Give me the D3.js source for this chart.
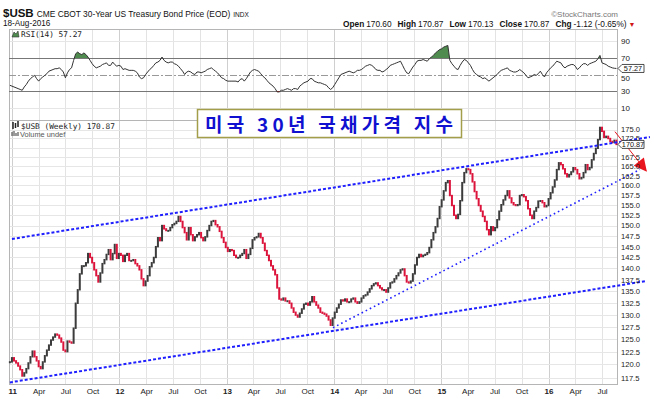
<!DOCTYPE html>
<html>
<head>
<meta charset="utf-8">
<script src="https://cdn.jsdelivr.net/npm/d3@7"></script>
<style>
  body { margin: 0; background: #fff; }
  svg { display: block; font-family: "Liberation Sans", Arial, sans-serif; }
  .axis text { fill: #222; font-size: 8px; font-family: "Liberation Sans", Arial, sans-serif; }
  .price text { font-size: 7.6px; }
  .mono { font-family: "DejaVu Sans Mono", monospace; }
</style>
</head>
<body>
<svg id="chart"></svg>
<script>
// weekly closes of $USB, first bar is the week of 24-Dec-2010
var weekStart = "2010-12-24";
var closes = [
  120.5,121.3,120.7,120.3,119.7,119.0,117.8,118.4,119.2,120.3,
  121.5,122.6,121.5,120.7,119.6,119.2,120.5,121.7,122.8,123.8,
  124.8,125.4,126.0,125.8,125.2,124.4,122.8,122.5,124.6,124.4,
  124.2,127.2,132.4,135.3,138.8,140.6,140.6,141.3,143.4,142.5,
  141.3,139.7,138.4,137.0,139.0,141.1,142.0,143.2,144.3,142.0,
  143.4,145.5,142.3,143.4,143.0,141.6,143.0,143.4,141.8,141.8,
  142.0,141.1,140.6,139.7,137.7,136.2,137.2,138.4,140.4,141.3,
  142.5,145.0,147.1,146.4,150.0,149.2,148.8,148.8,149.5,150.2,
  150.5,151.0,152.2,151.0,149.5,148.3,146.6,149.5,147.8,146.4,
  147.3,147.8,148.3,147.1,146.4,147.3,148.8,150.0,151.0,151.2,
  150.2,149.7,148.6,147.1,146.0,144.8,143.9,144.3,144.1,143.0,
  142.5,142.5,143.0,143.4,144.3,142.3,143.2,144.6,146.6,147.1,
  147.3,148.1,147.1,145.8,144.1,143.0,141.8,140.6,139.7,138.6,
  135.7,133.3,133.1,133.5,132.9,132.9,132.4,131.4,130.5,129.9,
  129.5,130.3,131.2,132.2,132.4,132.0,132.7,133.8,132.7,132.0,
  131.4,130.5,130.3,130.1,129.7,128.9,127.8,129.3,130.5,131.4,
  132.2,133.1,132.9,133.3,132.7,132.7,133.3,133.5,132.7,132.4,
  132.7,133.5,134.0,134.2,134.8,135.5,136.2,136.6,136.8,136.2,
  135.7,135.3,135.3,134.8,135.7,136.8,137.0,137.7,138.4,139.0,
  139.7,139.9,138.4,137.0,136.8,137.2,138.8,140.8,142.5,143.2,
  142.7,143.0,143.2,143.6,144.8,146.6,148.3,149.7,151.7,154.6,
  156.3,158.6,160.7,161.2,157.4,154.9,152.5,151.7,152.7,156.1,
  160.7,163.3,164.3,164.1,163.0,160.9,158.4,156.6,154.9,153.5,
  152.2,151.0,149.0,147.8,149.7,148.8,149.5,151.4,153.5,155.1,
  156.3,157.4,158.6,156.8,155.6,155.1,154.9,155.1,157.4,157.6,
  157.1,156.1,154.1,152.5,151.7,153.5,154.4,156.0,156.1,155.6,
  154.6,154.9,156.6,158.1,159.6,161.4,164.1,165.9,165.4,164.3,
  163.0,162.2,162.8,163.5,164.6,164.1,163.0,161.7,162.0,163.3,
  165.4,164.1,164.6,166.7,168.4,169.8,172.2,175.6,174.5,172.8,
  173.1,172.5,171.7,171.4,172.0,170.87
];
// RSI(14) for the same weeks
var rsiValues = [
  37,36,35,34,33,32,31,35,38,42,
  45,47,49,45,42,45,47,49,51,54,
  55,56,57,57,58,56,53,46,52,56,
  58,67,75,77,75,74,76,74,71,67,
  63,60,58,59,60,62,63,64,61,61,
  65,62,60,61,60,56,57,56,55,55,
  55,54,52,47,45,46,50,53,56,58,
  61,64,65,67,71,67,65,64,65,65,
  63,62,60,57,54,50,53,54,53,51,
  50,53,53,52,53,54,56,57,58,56,
  54,52,49,46,45,43,42,42,42,42,
  42,41,44,45,42,45,49,53,55,56,
  55,54,51,48,46,43,40,38,36,33,
  29,29,31,31,32,33,32,31,33,33,
  32,36,38,40,41,42,45,45,42,41,
  40,40,39,38,37,34,32,34,38,42,
  46,50,51,52,53,54,53,52,53,55,
  55,56,58,60,61,62,61,59,56,55,
  55,53,54,56,58,61,62,63,64,65,
  66,61,56,52,51,55,59,62,66,67,
  67,68,67,66,69,71,73,76,78,80,
  81,83,84,85,67,63,60,57,56,61,
  65,68,67,64,61,56,52,50,48,47,
  45,46,44,42,44,46,48,50,53,55,
  56,57,58,55,54,53,53,54,56,54,
  52,49,46,47,48,50,49,51,54,50,
  47,52,55,58,60,63,66,65,64,60,
  58,60,61,62,62,60,56,58,61,63,
  63,61,63,64,65,66,69,73,64,63,
  62,60,59,58,57.5,57.27
];

// 170.0 sits under the last-price tag, so it has no label
var priceTicks = [117.5,120,122.5,125,127.5,130,132.5,135,137.5,140,142.5,145,147.5,150,152.5,155,157.5,160,162.5,165,167.5,170,172.5,175];
var priceLabels = [117.5,120,122.5,125,127.5,130,132.5,135,137.5,140,142.5,145,147.5,150,152.5,155,157.5,160,162.5,165,167.5,172.5,175];
var rsiTicks = [10, 30, 50, 70, 90];
var lastPrice = 170.87;
var lastRsi = 57.27;

// hand drawn annotations: [date, price]
var upperChannel = [["2010-12-31", 146.8], ["2016-12-11", 172.9]];
var lowerChannel = [["2010-12-24", 116.6], ["2016-11-28", 137.2]];
var supportLine = [["2013-12-28", 127.3], ["2016-11-07", 164.1]];
var redArrow = [["2016-08-14", 174.4], ["2016-11-28", 163.8]];

var titleText = "미국 30년 국채가격 지수";

var w = 654;
var h = 399;
var plot = {left: 9, right: 617};
var rsiPanel = {top: 29, bottom: 120};
var mainPanel = {top: 120, bottom: 384};

var parse = d3.timeParse("%Y-%m-%d");
var start = parse(weekStart);
var weeks = closes.map(function(c, i) {
  return {
    date: d3.timeDay.offset(start, 7 * i),
    open: i ? closes[i - 1] : c,
    close: c,
    rsi: rsiValues[i]
  };
});

var svg = d3.select("#chart")
  .attr("width", w)
  .attr("height", h);

var xScale = d3.scaleTime()
  .domain([parse("2010-12-21"), parse("2016-08-21")])
  .range([plot.left, plot.right]);

var yScale = d3.scaleLog()
  .domain([116.3, 177.7])
  .range([mainPanel.bottom, mainPanel.top]);

var rScale = d3.scaleLinear()
  .domain([0, 100])
  .range([116, 33]);

var quarters = d3.timeMonth.range(parse("2011-01-01"), parse("2016-08-01"), 3);

//grid
var grid = svg.append("g");
grid.selectAll(".vgrid")
  .data(quarters)
  .enter()
  .append("line")
  .attr("x1", function(d) { return Math.round(xScale(d)) + 0.5; })
  .attr("x2", function(d) { return Math.round(xScale(d)) + 0.5; })
  .attr("y1", rsiPanel.top)
  .attr("y2", mainPanel.bottom)
  .attr("stroke", function(d) { return d.getMonth() === 0 ? "#cfcfcf" : "#e3e3e3"; })
  .attr("stroke-width", 1);

grid.selectAll(".hgrid")
  .data(priceTicks)
  .enter()
  .append("line")
  .attr("x1", plot.left)
  .attr("x2", plot.right)
  .attr("y1", function(d) { return Math.round(yScale(d)) + 0.5; })
  .attr("y2", function(d) { return Math.round(yScale(d)) + 0.5; })
  .attr("stroke", "#e6e6e6");

grid.selectAll(".rgrid")
  .data([10, 90])
  .enter()
  .append("line")
  .attr("x1", plot.left)
  .attr("x2", plot.right)
  .attr("y1", function(d) { return Math.round(rScale(d)) + 0.5; })
  .attr("y2", function(d) { return Math.round(rScale(d)) + 0.5; })
  .attr("stroke", "#e6e6e6");

//panel frames
svg.append("rect")
  .attr("x", plot.left + 0.5).attr("y", rsiPanel.top + 0.5)
  .attr("width", plot.right - plot.left).attr("height", rsiPanel.bottom - rsiPanel.top)
  .attr("fill", "none").attr("stroke", "#b5b5b5");
svg.append("rect")
  .attr("x", plot.left + 0.5).attr("y", mainPanel.top + 0.5)
  .attr("width", plot.right - plot.left).attr("height", mainPanel.bottom - mainPanel.top)
  .attr("fill", "none").attr("stroke", "#b5b5b5");

//RSI reference lines
[70, 30].forEach(function(v) {
  svg.append("line")
    .attr("x1", plot.left).attr("x2", plot.right)
    .attr("y1", Math.round(rScale(v)) + 0.5).attr("y2", Math.round(rScale(v)) + 0.5)
    .attr("stroke", "#777");
});
svg.append("line")
  .attr("x1", plot.left).attr("x2", plot.right)
  .attr("y1", Math.round(rScale(50)) + 0.5).attr("y2", Math.round(rScale(50)) + 0.5)
  .attr("stroke", "#999")
  .attr("stroke-dasharray", "7,2,2,2");

//RSI overbought / oversold fills
var defs = svg.append("defs");
defs.append("clipPath").attr("id", "above70")
  .append("rect").attr("x", plot.left).attr("y", rsiPanel.top)
  .attr("width", plot.right - plot.left).attr("height", rScale(70) - rsiPanel.top);
defs.append("clipPath").attr("id", "below30")
  .append("rect").attr("x", plot.left).attr("y", rScale(30))
  .attr("width", plot.right - plot.left).attr("height", rsiPanel.bottom - rScale(30));

svg.append("path")
  .datum(weeks)
  .attr("clip-path", "url(#above70)")
  .attr("fill", "#4f8a4f")
  .attr("d", d3.area()
    .x(function(d) { return xScale(d.date); })
    .y0(rScale(70))
    .y1(function(d) { return rScale(d.rsi); }));

svg.append("path")
  .datum(weeks)
  .attr("clip-path", "url(#below30)")
  .attr("fill", "#b22")
  .attr("d", d3.area()
    .x(function(d) { return xScale(d.date); })
    .y0(rScale(30))
    .y1(function(d) { return rScale(d.rsi); }));

svg.append("path")
  .datum(weeks)
  .attr("fill", "none")
  .attr("stroke", "#333")
  .attr("stroke-width", 1)
  .attr("d", d3.line()
    .x(function(d) { return xScale(d.date); })
    .y(function(d) { return rScale(d.rsi); }));

//candles
svg.selectAll(".candle")
  .data(weeks)
  .enter()
  .append("rect")
  .attr("x", function(d) { return xScale(d.date) - 1; })
  .attr("width", 2)
  .attr("y", function(d) { return yScale(Math.max(d.open, d.close)) - 0.7; })
  .attr("height", function(d) {
    return Math.max(2, Math.abs(yScale(d.open) - yScale(d.close)) + 1.4);
  })
  .attr("fill", function(d) { return d.close < d.open ? "#dc143c" : "#3c3c3c"; });

//trend lines
function drawTrend(pts, width, dash) {
  svg.append("line")
    .attr("x1", xScale(parse(pts[0][0]))).attr("y1", yScale(pts[0][1]))
    .attr("x2", xScale(parse(pts[1][0]))).attr("y2", yScale(pts[1][1]))
    .attr("stroke", "#1f1fff")
    .attr("stroke-width", width)
    .attr("stroke-dasharray", dash);
}
drawTrend(upperChannel, 2, "3,2");
drawTrend(lowerChannel, 2, "3,2");
drawTrend(supportLine, 1.6, "1.6,3");

//red arrow
defs.append("marker")
  .attr("id", "arrowhead")
  .attr("viewBox", "0 0 10 10")
  .attr("refX", 9).attr("refY", 5)
  .attr("markerWidth", 15).attr("markerHeight", 13)
  .attr("markerUnits", "userSpaceOnUse")
  .attr("orient", "auto")
  .append("path")
  .attr("d", "M0,0 L10,5 L0,10 Z")
  .attr("fill", "#e8141e");

svg.append("line")
  .attr("x1", xScale(parse(redArrow[0][0]))).attr("y1", yScale(redArrow[0][1]))
  .attr("x2", xScale(parse(redArrow[1][0]))).attr("y2", yScale(redArrow[1][1]))
  .attr("stroke", "#e8141e")
  .attr("stroke-width", 1)
  .attr("marker-end", "url(#arrowhead)");

//axes
var priceAxis = d3.axisRight(yScale)
  .tickValues(priceLabels)
  .tickFormat(d3.format(".1f"))
  .tickSize(0)
  .tickPadding(4);
svg.append("g")
  .attr("class", "axis price")
  .attr("transform", "translate(" + plot.right + ",0)")
  .call(priceAxis)
  .call(function(g) { g.select(".domain").remove(); });

var rsiAxis = d3.axisRight(rScale)
  .tickValues(rsiTicks)
  .tickSize(0)
  .tickPadding(4);
svg.append("g")
  .attr("class", "axis")
  .attr("transform", "translate(" + plot.right + ",0)")
  .call(rsiAxis)
  .call(function(g) {
    g.select(".domain").remove();
    g.selectAll("text").attr("dy", function(d) { return d === 50 ? "0.75em" : "0.32em"; });
  });

var xAxis = d3.axisBottom(xScale)
  .tickValues(quarters)
  .tickSize(0)
  .tickPadding(4)
  .tickFormat(function(d) {
    return d.getMonth() === 0 ? d3.timeFormat("%y")(d) : d3.timeFormat("%b")(d);
  });
svg.append("g")
  .attr("class", "axis")
  .attr("transform", "translate(0," + mainPanel.bottom + ")")
  .call(xAxis)
  .call(function(g) {
    g.select(".domain").remove();
    g.selectAll("text")
      .attr("font-weight", function(d) { return d.getMonth() === 0 ? "bold" : "normal"; })
      .attr("fill", function(d) { return d.getMonth() === 0 ? "#111" : "#333"; });
  });

//current value tags
function valueTag(y, label) {
  var x = plot.right + 1;
  svg.append("path")
    .attr("d", "M" + x + "," + y + " L" + (x + 4) + "," + (y - 4) + " L" + (x + 26) + "," + (y - 4) +
      " L" + (x + 26) + "," + (y + 4) + " L" + (x + 4) + "," + (y + 4) + " Z")
    .attr("fill", "#fff")
    .attr("stroke", "#222")
    .attr("stroke-width", 0.8);
  svg.append("text")
    .attr("x", x + 15).attr("y", y + 2.6)
    .attr("text-anchor", "middle")
    .attr("font-size", "7.3px")
    .attr("fill", "#111")
    .text(label);
}
valueTag(rScale(lastRsi), d3.format(".2f")(lastRsi));
valueTag(yScale(lastPrice), d3.format(".2f")(lastPrice));

//header
var head = svg.append("text").attr("x", 3).attr("y", 16.5).attr("fill", "#111");
head.append("tspan").attr("font-size", "11.5px").attr("font-weight", "bold").text("$USB");
head.append("tspan").attr("font-size", "8.4px").attr("dx", 3).text("CME CBOT 30-Year US Treasury Bond Price (EOD)");
head.append("tspan").attr("font-size", "6.5px").attr("dx", 3).text("INDX");

svg.append("text")
  .attr("x", 3).attr("y", 26)
  .attr("font-size", "8.2px").attr("fill", "#111")
  .text("18-Aug-2016");

svg.append("text")
  .attr("x", 618).attr("y", 17)
  .attr("text-anchor", "end")
  .attr("font-size", "8px").attr("fill", "#777")
  .text("\u00a9StockCharts.com");

var quote = svg.append("text")
  .attr("x", 343).attr("y", 26.5)
  .attr("font-size", "8.3px").attr("fill", "#111");
[["Open", "170.60"], ["High", "170.87"], ["Low", "170.13"], ["Close", "170.87"], ["Chg", "-1.12 (-0.65%)"]]
  .forEach(function(p, i) {
    quote.append("tspan").attr("font-weight", "bold").attr("dx", i ? 6 : 0).text(p[0]);
    quote.append("tspan").attr("dx", 2).text(p[1]);
  });
quote.append("tspan").attr("fill", "#d01818").attr("dx", 2).attr("font-size", "7px").text("\u25bc");

//panel legends
svg.append("path")
  .attr("d", "M12,37 L14,32 L16,34 L18,31 L19,37 Z")
  .attr("fill", "#4f8a4f").attr("stroke", "#333").attr("stroke-width", 0.6);
svg.append("text")
  .attr("class", "mono")
  .attr("x", 21).attr("y", 37)
  .attr("font-size", "7.8px").attr("fill", "#222")
  .text("RSI(14) " + d3.format(".2f")(lastRsi));

svg.append("path")
  .attr("d", "M13,122 V129 M15.5,123 V128 M18,121 V127")
  .attr("stroke", "#222").attr("stroke-width", 1.5);
svg.append("text")
  .attr("class", "mono")
  .attr("x", 21).attr("y", 128.5)
  .attr("font-size", "7.8px").attr("fill", "#222")
  .text("$USB (Weekly) " + d3.format(".2f")(lastPrice));
svg.append("path")
  .attr("d", "M12,136 V132 M14,136 V131 M16,136 V133 M18,136 V132")
  .attr("stroke", "#555").attr("stroke-width", 1.2);
svg.append("text")
  .attr("x", 20).attr("y", 136.5)
  .attr("font-size", "7.4px").attr("fill", "#555")
  .text("Volume undef");

//title box
svg.append("rect")
  .attr("x", 197.5).attr("y", 109.5)
  .attr("width", 264).attr("height", 28)
  .attr("fill", "#fff")
  .attr("stroke", "#a39e4a")
  .attr("stroke-width", 1.5);
svg.append("text")
  .attr("x", 205).attr("y", 131.5)
  .attr("font-family", "'Noto Sans CJK KR', sans-serif")
  .attr("font-size", "19px")
  .attr("font-weight", "bold")
  .attr("fill", "#1010d0")
  .attr("textLength", 248)
  .attr("lengthAdjust", "spacing")
  .text(titleText);
</script>
</body>
</html>
